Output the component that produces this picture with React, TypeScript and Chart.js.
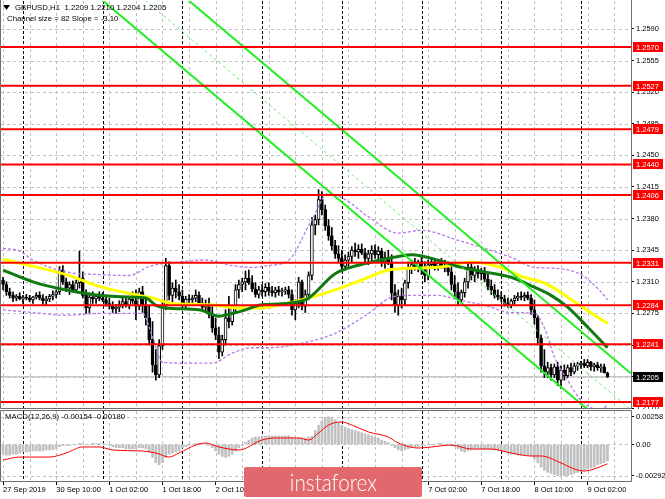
import React, { useEffect, useRef } from "react";
import { Chart, registerables } from "chart.js";

Chart.register(...registerables);

const FONT = "'Liberation Sans', Arial, sans-serif";

// ---------- candle data (H1 bars, index 0 = 27 Sep 18:00) ----------
const opens = [
  1.2312,1.2307,1.2299,1.2295,1.2292,1.2294,1.2291,1.2293,1.2292,1.2290,
  1.2293,1.2295,1.2292,1.2289,1.2291,1.2294,1.2296,1.2299,1.2323,1.2310,
  1.2303,1.2307,1.2301,1.2309,1.2314,1.2295,1.2281,1.2293,1.2291,1.2294,
  1.2292,1.2290,1.2286,1.2283,1.2280,1.2282,1.2285,1.2288,1.2284,1.2291,
  1.2289,1.2283,1.2299,1.2284,1.2270,1.2246,1.2218,1.2207,1.2239,1.2284,
  1.2328,1.2295,1.2303,1.2299,1.2294,1.2284,1.2291,1.2290,1.2292,1.2295,
  1.2286,1.2282,1.2285,1.2274,1.2259,1.2251,1.2232,1.2246,1.2270,1.2266,
  1.2281,1.2301,1.2307,1.2310,1.2314,1.2309,1.2302,1.2296,1.2301,1.2299,
  1.2304,1.2300,1.2298,1.2301,1.2299,1.2300,1.2301,1.2296,1.2279,1.2286,
  1.2310,1.2283,1.2296,1.2317,1.2373,1.2379,1.2401,1.2390,1.2372,1.2361,
  1.2350,1.2341,1.2336,1.2327,1.2334,1.2338,1.2345,1.2343,1.2346,1.2342,
  1.2336,1.2341,1.2345,1.2340,1.2344,1.2332,1.2337,1.2332,1.2298,1.2284,
  1.2294,1.2290,1.2309,1.2325,1.2329,1.2326,1.2332,1.2323,1.2317,1.2329,
  1.2332,1.2327,1.2331,1.2328,1.2325,1.2321,1.2307,1.2299,1.2290,1.2298,
  1.2310,1.2326,1.2317,1.2323,1.2319,1.2321,1.2313,1.2305,1.2301,1.2295,
  1.2293,1.2291,1.2286,1.2284,1.2289,1.2292,1.2294,1.2293,1.2295,1.2292,
  1.2279,1.2270,1.2248,1.2217,1.2210,1.2215,1.2207,1.2216,1.2201,1.2212,
  1.2206,1.2215,1.2210,1.2217,1.2218,1.2220,1.2217,1.2221,1.2216,1.2218,
  1.2215,1.2216,1.2209,
];
const highs = [
  1.2315,1.2310,1.2303,1.2299,1.2296,1.2298,1.2295,1.2296,1.2295,1.2294,
  1.2298,1.2299,1.2296,1.2294,1.2296,1.2300,1.2301,1.2327,1.2328,1.2314,
  1.2310,1.2311,1.2312,1.2344,1.2321,1.2301,1.2298,1.2299,1.2296,1.2299,
  1.2298,1.2295,1.2292,1.2288,1.2285,1.2289,1.2292,1.2293,1.2294,1.2299,
  1.2301,1.2303,1.2305,1.2294,1.2284,1.2266,1.2235,1.2246,1.2290,1.2336,
  1.2332,1.2309,1.2312,1.2307,1.2301,1.2294,1.2296,1.2295,1.2301,1.2299,
  1.2292,1.2290,1.2292,1.2283,1.2270,1.2260,1.2251,1.2279,1.2294,1.2284,
  1.2307,1.2312,1.2314,1.2322,1.2323,1.2317,1.2309,1.2305,1.2307,1.2308,
  1.2309,1.2305,1.2304,1.2305,1.2303,1.2304,1.2305,1.2301,1.2290,1.2315,
  1.2312,1.2301,1.2321,1.2381,1.2384,1.2412,1.2410,1.2395,1.2379,1.2370,
  1.2356,1.2350,1.2345,1.2340,1.2343,1.2349,1.2353,1.2351,1.2352,1.2347,
  1.2345,1.2350,1.2351,1.2349,1.2347,1.2343,1.2345,1.2340,1.2307,1.2301,
  1.2303,1.2312,1.2332,1.2334,1.2336,1.2334,1.2338,1.2332,1.2334,1.2336,
  1.2336,1.2334,1.2336,1.2334,1.2332,1.2327,1.2317,1.2309,1.2301,1.2314,
  1.2332,1.2332,1.2327,1.2328,1.2325,1.2326,1.2319,1.2312,1.2307,1.2301,
  1.2299,1.2295,1.2292,1.2291,1.2295,1.2298,1.2299,1.2298,1.2299,1.2296,
  1.2290,1.2273,1.2251,1.2235,1.2221,1.2219,1.2219,1.2221,1.2217,1.2218,
  1.2218,1.2220,1.2220,1.2221,1.2222,1.2224,1.2224,1.2222,1.2220,1.2221,
  1.2219,1.2219,1.2210,
];
const lows = [
  1.2301,1.2295,1.2292,1.2288,1.2289,1.2290,1.2286,1.2290,1.2288,1.2286,
  1.2291,1.2290,1.2285,1.2284,1.2288,1.2290,1.2292,1.2296,1.2307,1.2299,
  1.2296,1.2299,1.2298,1.2303,1.2292,1.2275,1.2276,1.2286,1.2286,1.2289,
  1.2288,1.2283,1.2280,1.2276,1.2275,1.2277,1.2281,1.2282,1.2280,1.2286,
  1.2268,1.2279,1.2276,1.2262,1.2240,1.2210,1.2201,1.2204,1.2235,1.2279,
  1.2290,1.2286,1.2292,1.2290,1.2279,1.2280,1.2285,1.2285,1.2288,1.2284,
  1.2279,1.2276,1.2270,1.2254,1.2246,1.2225,1.2228,1.2240,1.2259,1.2262,
  1.2275,1.2292,1.2299,1.2301,1.2307,1.2299,1.2293,1.2292,1.2294,1.2294,
  1.2295,1.2294,1.2293,1.2295,1.2294,1.2296,1.2292,1.2273,1.2268,1.2281,
  1.2279,1.2276,1.2290,1.2312,1.2362,1.2373,1.2384,1.2367,1.2356,1.2345,
  1.2336,1.2332,1.2321,1.2323,1.2327,1.2332,1.2338,1.2336,1.2340,1.2332,
  1.2329,1.2332,1.2336,1.2332,1.2327,1.2325,1.2329,1.2290,1.2276,1.2273,
  1.2281,1.2285,1.2303,1.2319,1.2323,1.2321,1.2318,1.2310,1.2312,1.2325,
  1.2323,1.2323,1.2325,1.2321,1.2317,1.2301,1.2292,1.2284,1.2286,1.2293,
  1.2303,1.2312,1.2310,1.2314,1.2312,1.2310,1.2301,1.2296,1.2292,1.2290,
  1.2288,1.2283,1.2282,1.2281,1.2285,1.2289,1.2290,1.2289,1.2290,1.2274,
  1.2263,1.2242,1.2210,1.2204,1.2204,1.2201,1.2204,1.2195,1.2192,1.2201,
  1.2204,1.2206,1.2208,1.2212,1.2214,1.2215,1.2215,1.2212,1.2211,1.2212,
  1.2210,1.2209,1.2204,
];
const closes = [
  1.2307,1.2299,1.2295,1.2292,1.2294,1.2291,1.2293,1.2292,1.2290,1.2293,
  1.2295,1.2292,1.2289,1.2291,1.2294,1.2296,1.2299,1.2323,1.2310,1.2303,
  1.2307,1.2301,1.2309,1.2314,1.2295,1.2281,1.2293,1.2291,1.2294,1.2292,
  1.2290,1.2286,1.2283,1.2280,1.2282,1.2285,1.2288,1.2284,1.2291,1.2289,
  1.2283,1.2299,1.2284,1.2270,1.2246,1.2218,1.2207,1.2239,1.2284,1.2328,
  1.2295,1.2303,1.2299,1.2294,1.2284,1.2291,1.2290,1.2292,1.2295,1.2286,
  1.2282,1.2285,1.2274,1.2259,1.2251,1.2232,1.2246,1.2270,1.2266,1.2281,
  1.2301,1.2307,1.2310,1.2314,1.2309,1.2302,1.2296,1.2301,1.2299,1.2304,
  1.2300,1.2298,1.2301,1.2299,1.2300,1.2301,1.2296,1.2279,1.2286,1.2310,
  1.2283,1.2296,1.2317,1.2373,1.2379,1.2401,1.2390,1.2372,1.2361,1.2350,
  1.2341,1.2336,1.2327,1.2334,1.2338,1.2345,1.2343,1.2346,1.2342,1.2336,
  1.2341,1.2345,1.2340,1.2344,1.2332,1.2337,1.2332,1.2298,1.2284,1.2294,
  1.2290,1.2309,1.2325,1.2329,1.2326,1.2332,1.2323,1.2317,1.2329,1.2332,
  1.2327,1.2331,1.2328,1.2325,1.2321,1.2307,1.2299,1.2290,1.2298,1.2310,
  1.2326,1.2317,1.2323,1.2319,1.2321,1.2313,1.2305,1.2301,1.2295,1.2293,
  1.2291,1.2286,1.2284,1.2289,1.2292,1.2294,1.2293,1.2295,1.2292,1.2279,
  1.2270,1.2248,1.2217,1.2210,1.2215,1.2207,1.2216,1.2201,1.2212,1.2206,
  1.2215,1.2210,1.2217,1.2218,1.2220,1.2217,1.2221,1.2216,1.2218,1.2215,
  1.2216,1.2209,1.2205,
];

// ---------- moving averages / bands (bar index, value) ----------
const yellowMaBars = [0,19,29,41,45,51,59,64,71,77,80,93,100,108,116,122,131,141,149,157,162,165,170,174,182];
const yellowMaValues = [1.2335,1.2318,1.2305,1.2295,1.2292,1.2286,1.2285,1.2284,1.2281,1.2281,1.2282,1.2293,1.2301,1.2312,1.2323,1.2325,1.2326,1.2332,1.2327,1.2315,1.2310,1.2305,1.2293,1.2283,1.2264];
const greenMaBars = [0,9,19,29,39,43,46,49,59,65,69,73,77,80,91,100,110,119,123,131,137,145,153,160,165,170,176,182];
const greenMaValues = [1.2323,1.2310,1.2301,1.2295,1.2293,1.2292,1.2284,1.2281,1.2279,1.2272,1.2275,1.2279,1.2284,1.2285,1.2290,1.2319,1.2331,1.2338,1.2340,1.2334,1.2327,1.2321,1.2315,1.2304,1.2295,1.2282,1.2260,1.2237];
const upperBandBars = [0,5,9,19,29,38,44,53,61,69,75,80,86,93,98,103,110,119,126,137,145,153,160,166,174,180,182];
const upperBandValues = [1.2347,1.2344,1.2334,1.2321,1.2318,1.2317,1.2327,1.2332,1.2334,1.2328,1.2326,1.2328,1.2334,1.2379,1.2408,1.2401,1.2382,1.2364,1.2367,1.2356,1.2347,1.2337,1.2326,1.2325,1.2318,1.2299,1.2290];
const lowerBandBars = [0,9,19,29,42,45,48,55,63,69,75,80,90,100,110,117,123,131,137,145,153,160,163,166,170,174,180,182];
const lowerBandValues = [1.2279,1.2276,1.2273,1.2275,1.2275,1.2249,1.2221,1.2220,1.2220,1.2231,1.2237,1.2237,1.2242,1.2253,1.2275,1.2293,1.2295,1.2295,1.2290,1.2284,1.2276,1.2275,1.2259,1.2227,1.2201,1.2179,1.2168,1.2174];

// ---------- regression channel (82 bars, slope -3.10 pips/bar) ----------
const channelBars = [0, 189];
const channelUpper = [1.27947, 1.22088];
const channelMiddle = [1.27544, 1.21685];
const channelLower = [1.27144, 1.21285];

// ---------- horizontal levels ----------
const levels = [1.2570, 1.2527, 1.2479, 1.2440, 1.2406, 1.2331, 1.2284, 1.2241, 1.2177];
const currentPrice = 1.2205;
const priceTicks = [1.2590, 1.2555, 1.2520, 1.2485, 1.2450, 1.2415, 1.2380, 1.2345, 1.2310, 1.2275, 1.2240, 1.2205, 1.2170];

// ---------- time axis ----------
const timeLabels = ["27 Sep 2019", "30 Sep 10:00", "1 Oct 02:00", "1 Oct 18:00", "2 Oct 10:00", "3 Oct 02:00", "3 Oct 18:00", "4 Oct 10:00", "7 Oct 02:00", "7 Oct 18:00", "8 Oct 10:00", "9 Oct 02:00"];
const labelBars = [0, 16, 32, 48, 64, 80, 96, 112, 128, 144, 160, 176];
const gridBars = [0, 8, 16, 24, 32, 40, 48, 56, 64, 72, 80, 88, 96, 104, 112, 120, 128, 136, 144, 152, 160, 168, 176, 184];
const daySeparatorBars = [6, 30, 54, 78, 102, 126, 150, 174];

// ---------- MACD ----------
const macdHist = [
  -0.0009,-0.0010,-0.0010,-0.0009,-0.0009,-0.0008,-0.0007,-0.0007,-0.0007,-0.0006,
  -0.0006,-0.0006,-0.0006,-0.0005,-0.0005,-0.0005,-0.0004,-0.0002,-0.0001,-0.0001,
  -0.0001,0,0,0.0001,0.0001,0,0,0.0001,0.0001,0.0001,
  0.0001,0,-0.0001,-0.0002,-0.0003,-0.0003,-0.0003,-0.0004,-0.0004,-0.0004,
  -0.0004,-0.0003,-0.0003,-0.0004,-0.0007,-0.0012,-0.0017,-0.0019,-0.0017,-0.0012,
  -0.0009,-0.0008,-0.0007,-0.0006,-0.0003,-0.0002,-0.0001,0,0.0001,0.0001,
  0.0001,0,-0.0001,-0.0003,-0.0006,-0.0009,-0.0011,-0.0012,-0.0011,-0.0009,
  -0.0006,-0.0003,-0.0001,0.0002,0.0004,0.0006,0.0007,0.0007,0.0008,0.0008,
  0.0008,0.0008,0.0008,0.0008,0.0008,0.0008,0.0008,0.0007,0.0006,0.0006,
  0.0006,0.0006,0.0007,0.0008,0.0013,0.0018,0.0022,0.0025,0.00258,0.0025,
  0.0023,0.0020,0.0018,0.0016,0.0015,0.0014,0.0013,0.0012,0.0011,0.0010,
  0.0009,0.0008,0.0007,0.0006,0.0004,0.0003,0.0002,-0.0001,-0.0003,-0.0005,
  -0.0006,-0.0005,-0.0004,-0.0003,-0.0002,-0.0002,-0.0001,-0.0001,0,0,
  0,0.0001,0.0001,0,0,-0.0001,-0.0002,-0.0004,-0.0006,-0.0007,
  -0.0006,-0.0005,-0.0004,-0.0004,-0.0004,-0.0004,-0.0004,-0.0005,-0.0005,-0.0006,
  -0.0006,-0.0007,-0.0008,-0.0009,-0.0009,-0.0010,-0.0010,-0.0010,-0.0010,-0.0011,
  -0.0013,-0.0017,-0.0021,-0.0024,-0.0026,-0.0027,-0.0028,-0.0029,-0.00292,-0.0029,
  -0.0029,-0.0028,-0.0027,-0.0026,-0.0025,-0.0024,-0.0023,-0.0022,-0.0021,-0.0019,
  -0.0018,-0.0017,-0.00154,
];
const signalBars = [0,5,14,19,24,29,33,42,46,50,53,58,61,65,71,78,82,89,92,95,98,102,105,110,116,119,125,129,135,141,147,153,159,162,168,172,175,178,182];
const signalValues = [-0.00144,-0.00117,-0.00117,-0.00079,-0.00023,-0.00023,-0.00051,-0.00061,-0.00079,-0.00117,-0.00079,-0.00005,0.00014,-0.00023,-0.00051,0.00042,0.00061,0.00061,0.00042,0.00107,0.00182,0.00210,0.00182,0.00117,0.00070,0.00014,-0.00033,-0.00023,-0.00005,-0.00042,-0.00042,-0.00079,-0.00107,-0.00107,-0.00172,-0.00228,-0.00247,-0.00228,-0.00180];
const macdTicks = [0.00258, 0, -0.00292];
const macdTickLabels = ["0.00258", "0.00", "-0.00292"];

// ---------- axis ranges ----------
const X_MIN = -0.623;
const X_MAX = 189.08;
const PRICE_MIN = 1.21703;
const PRICE_MAX = 1.26209;
const MACD_MIN = -0.003402;
const MACD_MAX = 0.003122;

const pts = (bars: number[], vals: number[]) => bars.map((b, k) => ({ x: b, y: vals[k] }));

const fitY = (s: any) => {
  s.width = 34;
  s.paddingTop = 0;
  s.paddingBottom = 0;
  s.paddingLeft = 0;
  s.paddingRight = 0;
};

function drawGrid(chart: any, hValues: number[]) {
  const { ctx, chartArea: a, scales } = chart;
  const xs = scales.x;
  const ys = scales.y;
  ctx.save();
  ctx.beginPath();
  ctx.rect(a.left, a.top, a.right - a.left, a.bottom - a.top);
  ctx.clip();
  ctx.lineWidth = 1;
  ctx.strokeStyle = "#c0c0c0";
  ctx.setLineDash([3, 3]);
  hValues.forEach((v) => {
    const py = Math.round(ys.getPixelForValue(v)) + 0.5;
    ctx.beginPath();
    ctx.moveTo(a.left, py);
    ctx.lineTo(a.right, py);
    ctx.stroke();
  });
  gridBars.forEach((b) => {
    const px = Math.round(xs.getPixelForValue(b)) + 0.5;
    ctx.beginPath();
    ctx.moveTo(px, a.top);
    ctx.lineTo(px, a.bottom);
    ctx.stroke();
  });
  ctx.strokeStyle = "#000000";
  ctx.setLineDash([3, 2]);
  daySeparatorBars.forEach((b) => {
    const px = Math.round(xs.getPixelForValue(b)) + 0.5;
    ctx.beginPath();
    ctx.moveTo(px, a.top);
    ctx.lineTo(px, a.bottom);
    ctx.stroke();
  });
  ctx.restore();
}

function drawBorder(chart: any, top: boolean) {
  const { ctx, chartArea: a } = chart;
  ctx.save();
  ctx.strokeStyle = "#6e6e6e";
  ctx.lineWidth = 1;
  ctx.setLineDash([]);
  const l = Math.round(a.left) - 0.5;
  const r = Math.round(a.right) + 0.5;
  const t = Math.round(a.top) - 0.5;
  const b = Math.round(a.bottom) + 0.5;
  ctx.beginPath();
  if (top) {
    ctx.moveTo(l, b);
    ctx.lineTo(l, t);
    ctx.lineTo(r, t);
    ctx.lineTo(r, b);
    ctx.lineTo(l, b);
  } else {
    ctx.moveTo(l, 0);
    ctx.lineTo(l, b);
    ctx.lineTo(r, b);
    ctx.lineTo(r, 0);
  }
  ctx.stroke();
  ctx.restore();
}

const mainPlugin = {
  id: "mainDecor",
  beforeDatasetsDraw(chart: any) {
    drawGrid(chart, priceTicks);
  },
  afterDraw(chart: any) {
    const { ctx, chartArea: a, scales } = chart;
    const ys = scales.y;
    drawBorder(chart, false);
    ctx.save();
    ctx.font = `7.5px ${FONT}`;
    ctx.textBaseline = "middle";
    ctx.textAlign = "left";
    levels.forEach((v) => {
      const py = Math.round(ys.getPixelForValue(v));
      ctx.fillStyle = "#ff0000";
      ctx.fillRect(a.right + 2, py - 5, 30, 10);
      ctx.fillStyle = "#ffffff";
      ctx.fillText(v.toFixed(4), a.right + 5, py + 0.5);
    });
    const cy = Math.round(ys.getPixelForValue(currentPrice));
    ctx.fillStyle = "#000000";
    ctx.fillRect(a.right + 2, cy - 5, 30, 10);
    ctx.fillStyle = "#ffffff";
    ctx.fillText(currentPrice.toFixed(4), a.right + 5, cy + 0.5);

    // title
    ctx.fillStyle = "#000000";
    ctx.beginPath();
    ctx.moveTo(3, 5);
    ctx.lineTo(10, 5);
    ctx.lineTo(6.5, 10);
    ctx.closePath();
    ctx.fill();
    ctx.font = `7.8px ${FONT}`;
    ctx.fillText("GBPUSD,H1  1.2209 1.2210 1.2204 1.2205", 15, 8);
    ctx.fillText("Channel size = 82 Slope = -3.10", 7, 19);
    ctx.restore();
  },
};

const macdPlugin = {
  id: "macdDecor",
  beforeDatasetsDraw(chart: any) {
    drawGrid(chart, macdTicks);
  },
  afterDraw(chart: any) {
    const { ctx } = chart;
    drawBorder(chart, true);
    ctx.save();
    ctx.fillStyle = "#000000";
    ctx.font = `7.8px ${FONT}`;
    ctx.textBaseline = "middle";
    ctx.fillText("MACD(12,26,9) -0.00154 -0.00180", 5, 8);
    ctx.restore();
  },
};

const lineDs = (data: any[], color: string, width: number, order: number, extra: any = {}) => ({
  type: "line" as const,
  data,
  borderColor: color,
  borderWidth: width,
  pointRadius: 0,
  fill: false,
  order,
  ...extra,
});

export default function App() {
  const mainRef = useRef<HTMLCanvasElement>(null);
  const macdRef = useRef<HTMLCanvasElement>(null);

  useEffect(() => {
    const tickFont = { family: FONT, size: 7.5 };

    const candleIdx = closes.map((_, i) => i);
    const wicks = candleIdx.map((i) => ({ x: i, y: [lows[i], highs[i]] }));
    const bodies = candleIdx.map((i) => ({ x: i, y: [opens[i], closes[i]] }));

    const levelSets = levels.map((v) =>
      lineDs([{ x: X_MIN, y: v }, { x: X_MAX, y: v }], "#ff0000", 2, 1)
    );

    const main = new Chart(mainRef.current as HTMLCanvasElement, {
      type: "bar",
      data: {
        datasets: [
          ...levelSets,
          lineDs(pts(channelBars, channelUpper), "#22ee22", 2, 2),
          lineDs(pts(channelBars, channelLower), "#22ee22", 2, 2),
          lineDs(pts(channelBars, channelMiddle), "#66ee66", 1, 2, { borderDash: [3, 3] }),
          lineDs(pts(greenMaBars, greenMaValues), "#117a11", 3, 3, { cubicInterpolationMode: "monotone" }),
          lineDs(pts(yellowMaBars, yellowMaValues), "#ffff00", 3, 4, { cubicInterpolationMode: "monotone" }),
          lineDs(pts(upperBandBars, upperBandValues), "#b77be6", 1.3, 5, { borderDash: [3, 2], cubicInterpolationMode: "monotone" }),
          lineDs(pts(lowerBandBars, lowerBandValues), "#b77be6", 1.3, 5, { borderDash: [3, 2], cubicInterpolationMode: "monotone" }),
          {
            type: "bar" as const,
            data: bodies as any,
            backgroundColor: (c: any) => (closes[c.dataIndex] >= opens[c.dataIndex] ? "#ffffff" : "#000000"),
            borderColor: "#000000",
            borderWidth: 1,
            borderSkipped: false,
            barThickness: 3,
            minBarLength: 1,
            grouped: false,
            order: 6,
          },
          {
            type: "bar" as const,
            data: wicks as any,
            backgroundColor: "#000000",
            borderWidth: 0,
            barThickness: 1,
            grouped: false,
            order: 7,
          },
          lineDs([{ x: X_MIN, y: currentPrice }, { x: X_MAX, y: currentPrice }], "#c8c8c8", 1.5, 8),
        ] as any,
      },
      options: {
        animation: false,
        responsive: false,
        events: [],
        layout: { padding: { left: 1, top: 1, right: 0, bottom: 1 } },
        plugins: { legend: { display: false }, tooltip: { enabled: false } },
        scales: {
          x: {
            type: "linear",
            min: X_MIN,
            max: X_MAX,
            offset: false,
            display: false,
            grid: { offset: false },
          },
          y: {
            type: "linear",
            position: "right",
            min: PRICE_MIN,
            max: PRICE_MAX,
            afterFit: fitY,
            afterBuildTicks: (s: any) => {
              s.ticks = priceTicks.map((v) => ({ value: v }));
            },
            ticks: {
              autoSkip: false,
              padding: 2,
              color: "#000000",
              font: tickFont,
              callback: (v: any) => Number(v).toFixed(4),
            },
            grid: { drawOnChartArea: false, drawTicks: true, tickLength: 3, tickColor: "#000000" },
            border: { display: false },
          },
        },
      } as any,
      plugins: [mainPlugin],
    });

    const macd = new Chart(macdRef.current as HTMLCanvasElement, {
      type: "bar",
      data: {
        datasets: [
          lineDs(pts(signalBars, signalValues), "#ff0000", 1, 1, { cubicInterpolationMode: "monotone" }),
          {
            type: "bar" as const,
            data: macdHist.map((v, i) => ({ x: i, y: v })) as any,
            backgroundColor: "#c0c0c0",
            borderWidth: 0,
            barThickness: 2,
            grouped: false,
            order: 2,
          },
        ] as any,
      },
      options: {
        animation: false,
        responsive: false,
        events: [],
        layout: { padding: { left: 1, top: 2, right: 0, bottom: 0 } },
        plugins: { legend: { display: false }, tooltip: { enabled: false } },
        scales: {
          x: {
            type: "linear",
            min: X_MIN,
            max: X_MAX,
            offset: false,
            afterFit: (s: any) => {
              s.height = 18;
              s.paddingLeft = 0;
              s.paddingRight = 0;
            },
            afterBuildTicks: (s: any) => {
              s.ticks = labelBars.map((v) => ({ value: v }));
            },
            ticks: {
              autoSkip: false,
              maxRotation: 0,
              minRotation: 0,
              align: "start",
              padding: 0,
              color: "#000000",
              font: tickFont,
              callback: (v: any) => {
                const k = labelBars.indexOf(Number(v));
                return k >= 0 ? timeLabels[k] : "";
              },
            },
            grid: { offset: false, drawOnChartArea: false, drawTicks: true, tickLength: 4, tickColor: "#000000" },
            border: { display: false },
          },
          y: {
            type: "linear",
            position: "right",
            min: MACD_MIN,
            max: MACD_MAX,
            afterFit: fitY,
            afterBuildTicks: (s: any) => {
              s.ticks = macdTicks.map((v) => ({ value: v }));
            },
            ticks: {
              autoSkip: false,
              padding: 2,
              color: "#000000",
              font: tickFont,
              callback: (v: any) => {
                const k = macdTicks.indexOf(Number(v));
                return k >= 0 ? macdTickLabels[k] : "";
              },
            },
            grid: { drawOnChartArea: false, drawTicks: true, tickLength: 3, tickColor: "#000000" },
            border: { display: false },
          },
        },
      } as any,
      plugins: [macdPlugin],
    });

    return () => {
      main.destroy();
      macd.destroy();
    };
  }, []);

  return (
    <div style={{ position: "absolute", left: 0, top: 0, width: 665, height: 499, background: "#ffffff", overflow: "hidden" }}>
      <canvas ref={mainRef} width={665} height={409} style={{ position: "absolute", left: 0, top: 0 }} />
      <canvas ref={macdRef} width={665} height={90} style={{ position: "absolute", left: 0, top: 409 }} />
      <div
        style={{
          position: "absolute",
          left: 244,
          top: 467,
          width: 178,
          height: 30,
          background: "#e1686c",
          borderRadius: 2,
          display: "flex",
          alignItems: "center",
          justifyContent: "center",
          color: "#ffffff",
          fontFamily: "Lato, 'Open Sans', sans-serif",
          fontWeight: 300,
          fontSize: 23,
          lineHeight: "30px",
        }}
      >
        <span style={{ display: "inline-block", transform: "scaleX(0.9)" }}>instaforex</span>
      </div>
    </div>
  );
}
